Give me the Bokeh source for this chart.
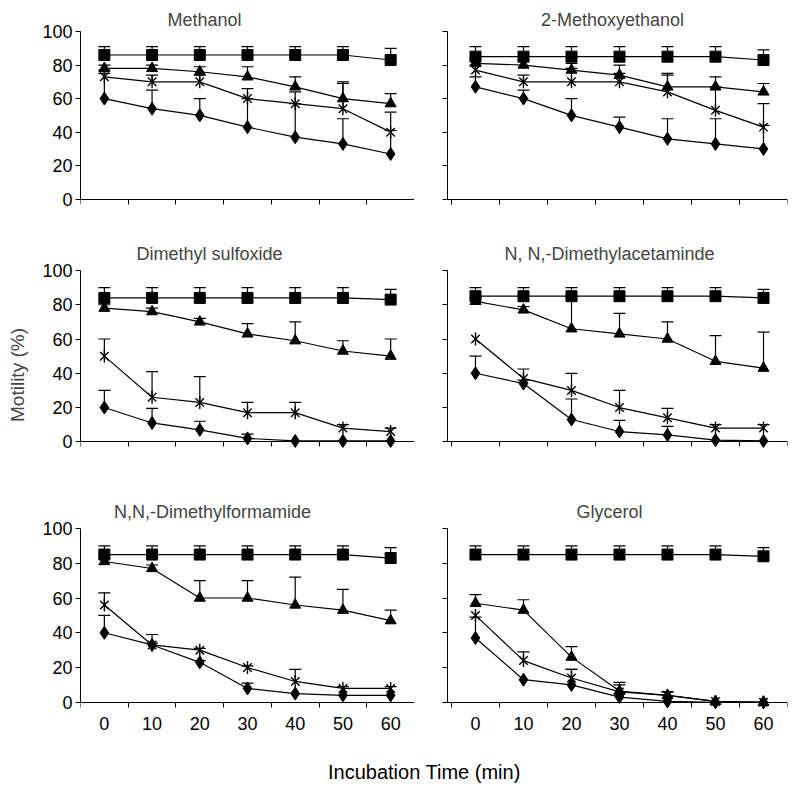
import math
from bokeh.plotting import figure
from bokeh.layouts import column, row
from bokeh.models import ColumnDataSource, Whisker, TeeHead, FixedTicker, Range1d, Div, Spacer
from bokeh.embed import file_html
from bokeh.resources import INLINE

# ---------------- data ----------------
TIME = [0, 10, 20, 30, 40, 50, 60]
Y_TICKS = [0, 20, 40, 60, 80, 100]
SOLVENTS = ["Methanol", "2-Methoxyethanol", "Dimethyl sulfoxide",
            "N, N,-Dimethylacetaminde", "N,N,-Dimethylformamide", "Glycerol"]
X_TITLE = "Incubation Time (min)"
Y_TITLE = "Motility (%)"

# square series (control)
SQUARE = {
    "Methanol": [86, 86, 86, 86, 86, 86, 83],
    "2-Methoxyethanol": [85, 85, 85, 85, 85, 85, 83],
    "Dimethyl sulfoxide": [84, 84, 84, 84, 84, 84, 83],
    "N, N,-Dimethylacetaminde": [85, 85, 85, 85, 85, 85, 84],
    "N,N,-Dimethylformamide": [85, 85, 85, 85, 85, 85, 83],
    "Glycerol": [85, 85, 85, 85, 85, 85, 84],
}
SQUARE_ERR = {
    "Methanol": [5, 5, 5, 5, 5, 5, 7],
    "2-Methoxyethanol": [6, 6, 6, 6, 6, 6, 6],
    "Dimethyl sulfoxide": [6, 6, 6, 6, 6, 6, 6],
    "N, N,-Dimethylacetaminde": [5, 5, 5, 5, 5, 5, 5],
    "N,N,-Dimethylformamide": [5, 5, 5, 5, 5, 5, 6],
    "Glycerol": [5, 5, 5, 5, 5, 5, 5],
}
# triangle series
TRIANGLE = {
    "Methanol": [78, 78, 76, 73, 67, 60, 57],
    "2-Methoxyethanol": [81, 80, 77, 74, 67, 67, 64],
    "Dimethyl sulfoxide": [78, 76, 70, 63, 59, 53, 50],
    "N, N,-Dimethylacetaminde": [82, 77, 66, 63, 60, 47, 43],
    "N,N,-Dimethylformamide": [81, 77, 60, 60, 56, 53, 47],
    "Glycerol": [57, 53, 26, 6.5, 4, 0.5, 0],
}
TRIANGLE_ERR = {
    "Methanol": [2, 2, 3, 6, 6, 9, 6],
    "2-Methoxyethanol": [3, 3, 4, 6, 8, 6, 5],
    "Dimethyl sulfoxide": [2, 2, 2, 6, 11, 6, 10],
    "N, N,-Dimethylacetaminde": [2, 2, 18, 12, 10, 15, 21],
    "N,N,-Dimethylformamide": [2, 2, 10, 10, 16, 12, 6],
    "Glycerol": [5, 6, 6, 5, 2, 0, 0],
}
# star (asterisk) series
STAR = {
    "Methanol": [73, 70, 70, 60, 57, 54, 40],
    "2-Methoxyethanol": [77, 70, 70, 70, 64, 53, 43],
    "Dimethyl sulfoxide": [50, 26, 23, 17, 17, 8, 6],
    "N, N,-Dimethylacetaminde": [60, 37, 30, 20, 14, 8, 8],
    "N,N,-Dimethylformamide": [56, 33, 30, 20, 12, 8, 8],
    "Glycerol": [50, 24, 14, 6, 4, 0.5, 0],
}
STAR_ERR = {
    "Methanol": [4, 4, 4, 6, 7, 16, 12],
    "2-Methoxyethanol": [3, 4, 8, 5, 10, 14, 14],
    "Dimethyl sulfoxide": [10, 15, 15, 6, 6, 2, 2],
    "N, N,-Dimethylacetaminde": [0, 5.5, 10, 10, 5.5, 2, 2],
    "N,N,-Dimethylformamide": [7, 6, 1, 1, 7, 1, 1],
    "Glycerol": [0, 5, 5, 4, 2, 0, 0],
}
# diamond series
DIAMOND = {
    "Methanol": [60, 54, 50, 43, 37, 33, 27],
    "2-Methoxyethanol": [67, 60, 50, 43, 36, 33, 30],
    "Dimethyl sulfoxide": [20, 11, 7, 2, 0.5, 0.5, 0.5],
    "N, N,-Dimethylacetaminde": [40, 34, 13, 6, 4, 1, 0.5],
    "N,N,-Dimethylformamide": [40, 33, 23, 8, 5, 4, 4],
    "Glycerol": [37, 13, 10, 3, 0.5, 0, 0],
}
DIAMOND_ERR = {
    "Methanol": [15, 11, 10, 17, 20, 15, 14],
    "2-Methoxyethanol": [6, 5, 10, 6, 12, 15, 14],
    "Dimethyl sulfoxide": [10, 8.5, 5, 2.5, 0, 0, 0],
    "N, N,-Dimethylacetaminde": [10, 2, 12, 6.5, 5, 0, 0],
    "N,N,-Dimethylformamide": [10, 1, 1, 3, 0, 0, 0],
    "Glycerol": [12, 0, 9, 2, 0, 0, 0],
}

# ---------------- layout / style ----------------
FONT = "Liberation Sans"
TITLE_PX = 18
TITLE_CENTER = [204, 611, 209, 608, 212, 608]     # page x of each panel title centre
FRAME_LEFT = [80, 446]
# px per y unit: 1.68, 1.71, 1.74 ; frames reach below 0 so that tick labels are inside
Y_START = [-21, -22, -26]
FRAME_H = [203, 209, 219]
BORDER_T = [31, 36, 36]
BORDER_B = [0, 13, 0]
TITLE_STANDOFF = [4, 13, 13]

# Arial / Liberation Sans advance widths (1/1000 em)
_W = {"M": 833, "e": 556, "t": 278, "h": 556, "a": 556, "n": 556, "o": 556, "l": 222,
      "2": 556, "-": 333, "x": 500, "y": 500, "D": 722, "i": 222, "s": 500, "u": 556,
      "f": 278, "d": 556, "N": 722, ",": 278, " ": 278, "c": 500, "m": 833, "G": 778,
      "r": 333}


def text_width(s, px):
    return sum(_W.get(ch, 556) for ch in s) / 1000.0 * px


def add_series(p, vals, errs, marker, size):
    p.line(TIME, vals, line_color="black", line_width=1.2)
    xs = [t for t, e in zip(TIME, errs) if e > 0]
    ys = [v for v, e in zip(vals, errs) if e > 0]
    tops = [v + e for v, e in zip(vals, errs) if e > 0]
    src = ColumnDataSource(dict(x=xs, y=ys, top=tops))
    p.add_layout(Whisker(source=src, base="x", lower="y", upper="top",
                         line_color="black", line_width=1.2,
                         upper_head=TeeHead(size=12, line_color="black", line_width=1.2),
                         lower_head=None))
    if marker == "star":
        p.scatter(TIME, vals, marker="x", size=size, line_color="black", line_width=1.4)
        p.scatter(TIME, vals, marker="dash", size=size + 1, angle=math.pi / 2,
                  line_color="black", line_width=1.4)
    else:
        p.scatter(TIME, vals, marker=marker, size=size, fill_color="black",
                  line_color="black")


def make_panel(i):
    name = SOLVENTS[i]
    c = i % 2
    r = i // 2
    left = c == 0
    bottom = r == 2
    step = TIME[1] - TIME[0]
    x0 = TIME[0] - step / 2
    x1 = TIME[-1] + step / 2
    p = figure(output_backend="svg", toolbar_location=None,
               frame_width=334 if left else 340, frame_height=FRAME_H[r],
               min_border_left=80 if left else 32,
               min_border_right=0 if left else 6,
               min_border_top=BORDER_T[r], min_border_bottom=BORDER_B[r],
               x_range=Range1d(x0, x1) if left else Range1d(x0 - 0.83, x1),
               y_range=Range1d(Y_START[r], Y_TICKS[-1]))
    p.grid.visible = False
    p.outline_line_color = None
    p.background_fill_color = "white"
    p.border_fill_color = "white"

    p.title.text = name
    p.title.text_font = FONT
    p.title.text_font_size = f"{TITLE_PX}px"
    p.title.text_font_style = "normal"
    p.title.align = "left"
    p.title.offset = TITLE_CENTER[i] - text_width(name, TITLE_PX) / 2 - FRAME_LEFT[c]
    p.title.standoff = TITLE_STANDOFF[r]

    # x axis: tick marks between categories, labels under categories
    # (as in the reference, only the bottom row shows them; the others are white)
    bounds = [t - step / 2 for t in TIME] + [x1]
    xa = p.xaxis[0]
    xa.fixed_location = 0
    xa.ticker = FixedTicker(ticks=TIME, minor_ticks=bounds)
    xa.major_tick_line_color = None
    xa.major_tick_in = 0
    xa.major_tick_out = 5
    xa.minor_tick_line_color = "black"
    xa.minor_tick_in = 0
    xa.minor_tick_out = 5
    xa.axis_line_color = "black"
    xa.major_label_text_font = FONT
    xa.major_label_text_color = "black" if bottom else "white"
    xa.major_label_text_font_size = "18px"
    xa.major_label_standoff = 10

    # y axis: labelled on the left column; right column labels are white
    ya = p.yaxis[0]
    ya.bounds = (Y_TICKS[0], Y_TICKS[-1])
    ya.axis_line_color = "black"
    ya.ticker = FixedTicker(ticks=Y_TICKS)
    ya.major_tick_in = 0
    ya.major_tick_out = 5
    ya.minor_tick_line_color = None
    ya.major_label_text_font = FONT
    if left:
        ya.major_label_text_color = "black"
        ya.major_label_text_font_size = "18px"
        ya.major_label_standoff = 3
    else:
        ya.major_label_text_color = "white"
        ya.major_label_text_font_size = "14px"
        ya.major_label_standoff = 2
    if left and r == 1:
        ya.axis_label = Y_TITLE
        ya.axis_label_text_font = FONT
        ya.axis_label_text_font_size = "19px"
        ya.axis_label_text_font_style = "normal"
        ya.axis_label_standoff = 11

    add_series(p, SQUARE[name], SQUARE_ERR[name], "square", 11)
    add_series(p, TRIANGLE[name], TRIANGLE_ERR[name], "triangle", 11)
    add_series(p, STAR[name], STAR_ERR[name], "star", 12)
    add_series(p, DIAMOND[name], DIAMOND_ERR[name], "diamond", 13)
    return p


panels = [make_panel(i) for i in range(6)]

xlabel = Div(text=X_TITLE, width=300, height=24, margin=(14, 0, 0, 0),
             styles={"font-family": "Liberation Sans, sans-serif",
                     "font-size": "20px", "color": "black", "white-space": "nowrap",
                     "line-height": "23px"})

layout = column(row(panels[0], panels[1]),
                row(panels[2], panels[3]),
                row(panels[4], panels[5]),
                row(Spacer(width=328, height=10), xlabel))

open("out.html", "w").write(file_html(layout, INLINE))
